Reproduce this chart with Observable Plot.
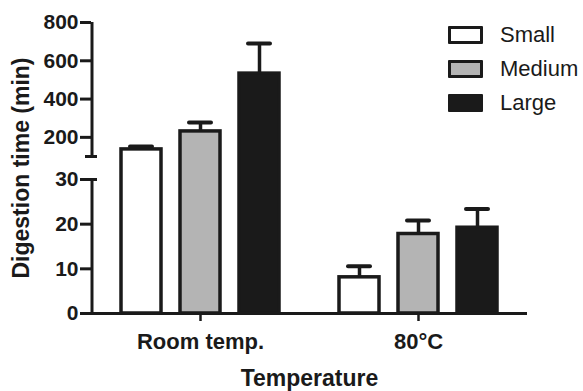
<!DOCTYPE html>
<html>
<head>
<meta charset="utf-8">
<script src="https://cdn.jsdelivr.net/npm/d3@7"></script>
<script src="https://cdn.jsdelivr.net/npm/@observablehq/plot@0.6"></script>
<style>
  body { margin: 0; background: #fff; font-family: "Liberation Sans", Arial, sans-serif; }
  #wrap { position: relative; width: 583px; height: 391px; }
  #legend { position: absolute; left: 448px; top: 0; }
  .row { position: absolute; left: 0; height: 18px; display: flex; align-items: center; white-space: nowrap; }
  .sw { box-sizing: border-box; width: 35px; height: 18px; border: 3.5px solid #1a1a1a; border-radius: 1px; }
  .lab { margin-left: 17px; font-size: 22px; color: #1a1a1a; line-height: 18px; }
</style>
</head>
<body>
<div id="wrap"><div id="legend"></div></div>
<script>
// ---- data ----
const temperatures = ["Room temp.", "80°C"];
const sizes = ["Small", "Medium", "Large"];
const roomMeans = [137, 231, 533];
const roomErrors = [15, 47, 157];
const hotMeans = [8.1, 17.8, 19.2];
const hotErrors = [2.5, 3.0, 4.2];
const yTicks = [0, 10, 20, 30, 200, 400, 600, 800];
const sizeColors = ["#ffffff", "#b4b4b4", "#1a1a1a"];

// ---- broken y axis: 0–30 below the break, 100–800 above it ----
const lowerMax = 30, upperMin = 100, upperMax = 800;
const gapUnits = 5.15;           // height of the break, in lower-segment units
const upperUnits = 30;           // upper segment shown as tall as the lower one
function yv(v) {
  if (v <= lowerMax) return v;
  if (v < upperMin) return lowerMax + (v - lowerMax) / (upperMin - lowerMax) * gapUnits;
  return lowerMax + gapUnits + (v - upperMin) / (upperMax - upperMin) * upperUnits;
}
const yLabel = new Map(yTicks.map(t => [yv(t), String(t)]));
const axisSegments = [{lo: 0, hi: lowerMax}, {lo: upperMin, hi: upperMax}];

const data = [];
temperatures.forEach((t, ti) => {
  const means = ti === 0 ? roomMeans : hotMeans;
  const errs = ti === 0 ? roomErrors : hotErrors;
  sizes.forEach((s, si) => data.push({temp: t, size: s, mean: means[si], err: errs[si]}));
});

const ink = "#1a1a1a";
const chart = Plot.plot({
  width: 583,
  height: 391,
  marginLeft: 90,
  marginRight: 56,
  marginTop: 22,
  marginBottom: 78,
  style: {fontFamily: "'Liberation Sans', Arial, sans-serif", color: ink, background: "#fff"},
  fx: {domain: temperatures, padding: 0, label: null},
  x: {domain: sizes, paddingInner: 0.294, paddingOuter: 0.479, axis: null},
  y: {domain: [0, yv(upperMax)], axis: null},
  color: {domain: sizes, range: sizeColors},
  marks: [
    Plot.barY(data, {fx: "temp", x: "size", y1: 0, y2: d => yv(d.mean), fill: "size",
      stroke: ink, strokeWidth: 3.5, insetLeft: 1, insetRight: 1}),
    Plot.ruleX(data, {fx: "temp", x: "size", y1: d => yv(d.mean), y2: d => yv(d.mean + d.err),
      stroke: ink, strokeWidth: 3.5}),
    Plot.tickY(data, {fx: "temp", x: "size", y: d => yv(d.mean + d.err),
      stroke: ink, strokeWidth: 4, strokeLinecap: "round", insetLeft: 10, insetRight: 10}),
    Plot.ruleY([0], {stroke: ink, strokeWidth: 3}),
    // y axis line, two segments around the break
    Plot.ruleX(axisSegments, {x: () => sizes[0], y1: d => yv(d.lo), y2: d => yv(d.hi),
      dx: -49.5, stroke: ink, strokeWidth: 3, facetAnchor: "left"}),
    Plot.axisY(yTicks.map(yv), {tickFormat: d => yLabel.get(d), tickSize: 11, tickPadding: 2,
      fontSize: 21, fontWeight: "bold", strokeWidth: 3, label: null, fill: ink, stroke: ink}),
    // break caps
    Plot.axisY([yv(upperMin)], {tickSize: 12, dx: 6, tickFormat: () => "", strokeWidth: 3, label: null, stroke: ink}),
    Plot.axisY([yv(lowerMax)], {tickSize: 6, dx: 6, tickFormat: () => "", strokeWidth: 3, label: null, stroke: ink}),
    Plot.axisY([], {label: "Digestion time (min)", labelAnchor: "center", labelOffset: 79,
      labelArrow: "none", fontSize: 23, fontWeight: "bold", fill: ink}),
    Plot.axisFx({tickSize: 8, tickPadding: 12, fontSize: 22, fontWeight: "bold", strokeWidth: 2.5,
      label: null, anchor: "bottom", fill: ink, stroke: ink}),
    Plot.axisFx([], {label: "Temperature", labelAnchor: "center", labelOffset: 72, labelArrow: "none",
      anchor: "bottom", fontSize: 23, fontWeight: "bold", fill: ink})
  ]
});
document.getElementById("wrap").prepend(chart);

// legend
const legend = document.getElementById("legend");
const rowTops = [26, 60, 94];
sizes.forEach((s, i) => {
  const row = document.createElement("div");
  row.className = "row";
  row.style.top = rowTops[i] + "px";
  const sw = document.createElement("div");
  sw.className = "sw";
  sw.style.background = sizeColors[i];
  const lab = document.createElement("span");
  lab.className = "lab";
  lab.textContent = s;
  row.append(sw, lab);
  legend.append(row);
});
</script>
</body>
</html>
